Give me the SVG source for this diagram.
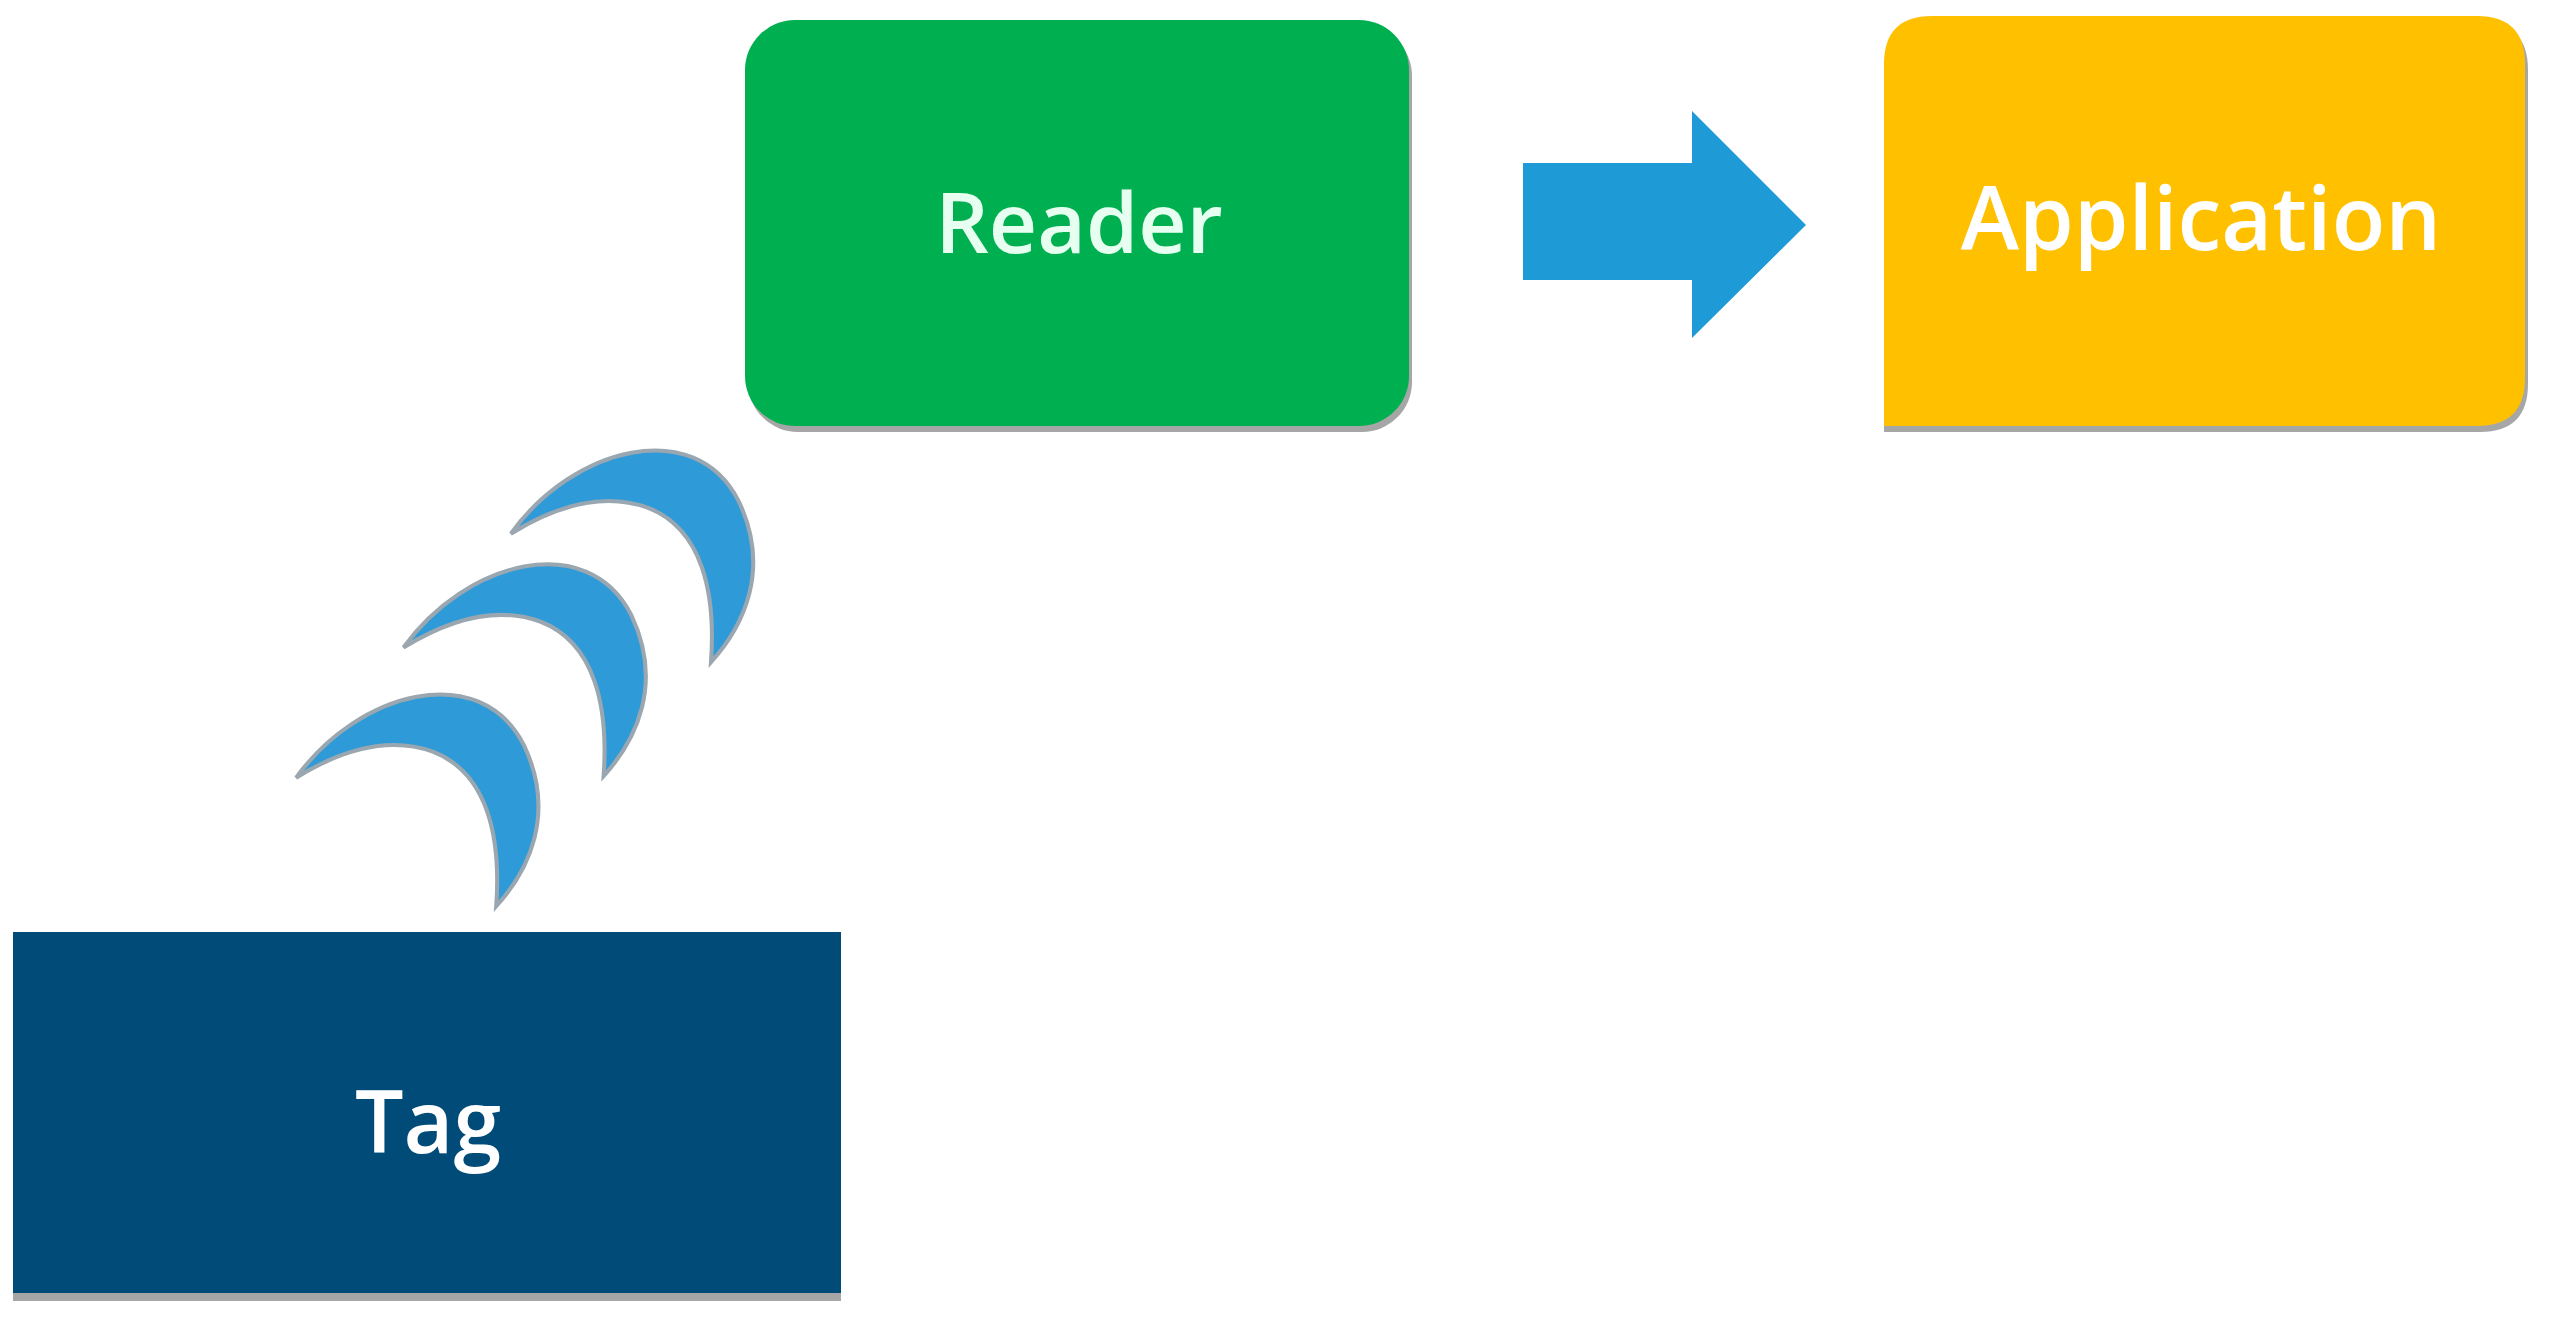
<svg xmlns="http://www.w3.org/2000/svg" width="2551" height="1327" viewBox="0 0 2551 1327">
<style>
.lbl{font-family:"Open Sans","Liberation Sans",sans-serif;font-weight:600;fill:#fff;text-anchor:middle;dominant-baseline:central}
.sh{fill:#a6a6a6}
.cr{fill:#2e9bd8;stroke:#9aa7b0;stroke-width:2.5}
</style>
<rect width="2551" height="1327" fill="#fff"/>
<g id="reader">
<rect class="sh" x="748" y="26" width="664" height="406" rx="50"/>
<rect x="745" y="20" width="664" height="406" rx="50" fill="#00b050"/>
<text class="lbl" x="1079" y="220" font-size="84" style="fill:#e6fff0">Reader</text>
</g>
<g id="application">
<path class="sh" d="M1884 70 Q1884 22 1932 22 H2480 Q2528 22 2528 70 V384 Q2528 432 2480 432 H1884 Z"/>
<path d="M1884 64 Q1884 16 1932 16 H2477 Q2525 16 2525 64 V378 Q2525 426 2477 426 H1884 Z" fill="#ffc000"/>
<text class="lbl" x="2201" y="216" font-size="88">Application</text>
</g>
<g id="tag">
<rect class="sh" x="13" y="940" width="828" height="361"/>
<rect x="13" y="932" width="828" height="361" fill="#004b78"/>
<text class="lbl" x="428" y="1119" font-size="86">Tag</text>
</g>
<g id="connectors">
<path d="M1523 163 H1692 V111 L1806 225 L1692 338 V280 H1523 Z" fill="#1e9ad6"/>
<g transform="scale(1.627)">
<path class="cr" d="M182 478 C220 425 295 405 322 458 C342 500 325 535 305 557 C308 515 300 475 266 462 C238 452 208 462 182 478 Z"/>
<path class="cr" transform="translate(66 -80)" d="M182 478 C220 425 295 405 322 458 C342 500 325 535 305 557 C308 515 300 475 266 462 C238 452 208 462 182 478 Z"/>
<path class="cr" transform="translate(132 -150)" d="M182 478 C220 425 295 405 322 458 C342 500 325 535 305 557 C308 515 300 475 266 462 C238 452 208 462 182 478 Z"/>
</g>
</g>
</svg>
